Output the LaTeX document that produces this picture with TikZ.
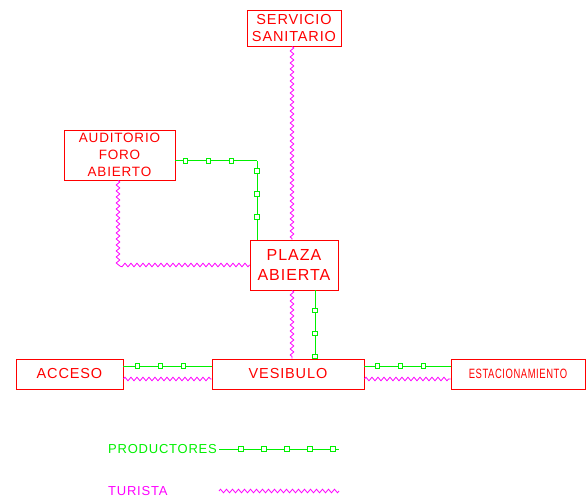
\documentclass[tikz,border=0pt]{standalone}
\usepackage{fontspec}
\setmainfont{Liberation Sans}[LetterSpace=6]
\usetikzlibrary{positioning,calc,decorations.pathmorphing,decorations.markings}

\definecolor{cadred}{RGB}{255,0,0}
\definecolor{cadgreen}{RGB}{0,240,0}
\definecolor{cadmag}{RGB}{255,0,255}

\tikzset{
  room/.style={draw=cadred, line width=0.9pt, text=cadred, align=center,
    inner sep=0pt, font=\fontsize{14.5}{17.5}\selectfont},
  turline/.style={draw=cadmag, line width=0.8pt, decorate,
    decoration={zigzag, amplitude=1.8pt, segment length=6pt}},
  prodmark/.style={draw=cadgreen, fill=white, line width=0.8pt,
    minimum size=4.5pt, inner sep=0pt},
  prodline/.style args={#1 to #2}{draw=cadgreen, line width=1pt,
    postaction={decorate, decoration={markings,
      mark=between positions #1 and #2 step 23pt with {\node[prodmark] {};}}}},
  legend/.style={anchor=west, inner sep=0pt, font=\fontsize{13}{15}\selectfont}
}

\begin{document}
\begin{tikzpicture}[x=1pt,y=-1pt]
  \useasboundingbox (0,0) rectangle (586,502);

  % rooms
  \node[room, minimum width=94pt, minimum height=36pt] (serv) at (294,28) {SERVICIO\\SANITARIO};
  \node[room, minimum width=111pt, minimum height=50pt, font=\fontsize{13.5}{17}\selectfont] (aud) at (119.5,155) {AUDITORIO\\FORO\\ABIERTO};
  \node[room, minimum width=88pt, minimum height=50pt, font=\fontsize{16}{20}\selectfont] (plaza) at (294,265) {PLAZA\\ABIERTA};
  \node[room, minimum width=107pt, minimum height=30pt] (acc) at (69.5,374) {ACCESO};
  \node[room, minimum width=152pt, minimum height=30pt] (vesib) at (288,374) {VESIBULO};
  \node[room, minimum width=134pt, minimum height=30pt, font=\fontsize{13.5}{15}\selectfont] (estac) at (518,374) {\scalebox{0.7}[1]{ESTACIONAMIENTO}};

  % turista
  \draw[turline] ([xshift=-2pt]serv.south) -- ([xshift=-2pt]plaza.north);
  \draw[turline] ([xshift=-2pt]plaza.south) -- ([xshift=-2pt]plaza.south |- vesib.north);
  \draw[turline] ([xshift=-1.5pt]aud.south) |- (plaza.west);
  \draw[turline] ([yshift=-5pt]acc.east) -- ([yshift=-5pt]vesib.west);
  \draw[turline] ([yshift=-5pt]vesib.east) -- ([yshift=-5pt]estac.west);

  % productores
  \coordinate (audcorner) at (257,161);
  \draw[prodline=10pt to 57pt] (aud.east |- audcorner) -- (audcorner);
  \draw[prodline=10pt to 57pt] (audcorner) -- (audcorner |- plaza.north);
  \draw[prodline=20pt to 67pt] ([xshift=21pt]plaza.south) -- ([xshift=21pt]plaza.south |- vesib.north);
  \draw[prodline=14pt to 61pt] ([yshift=8pt]acc.east) -- ([yshift=8pt]vesib.west);
  \draw[prodline=13pt to 60pt] ([yshift=8pt]vesib.east) -- ([yshift=8pt]estac.west);

  % leyenda
  \node[legend, text=cadgreen] (prodtxt) at (108,449) {PRODUCTORES};
  \coordinate (prodstart) at (219,449);
  \coordinate (prodend) at (339,449);
  \draw[prodline=22pt to 115pt] (prodstart) -- (prodend);
  \node[legend, text=cadmag] (turtxt) at (108,491) {TURISTA};
  \coordinate (turstart) at (219,491);
  \coordinate (turend) at (339,491);
  \draw[turline] (turstart) -- (turend);
\end{tikzpicture}
\end{document}
